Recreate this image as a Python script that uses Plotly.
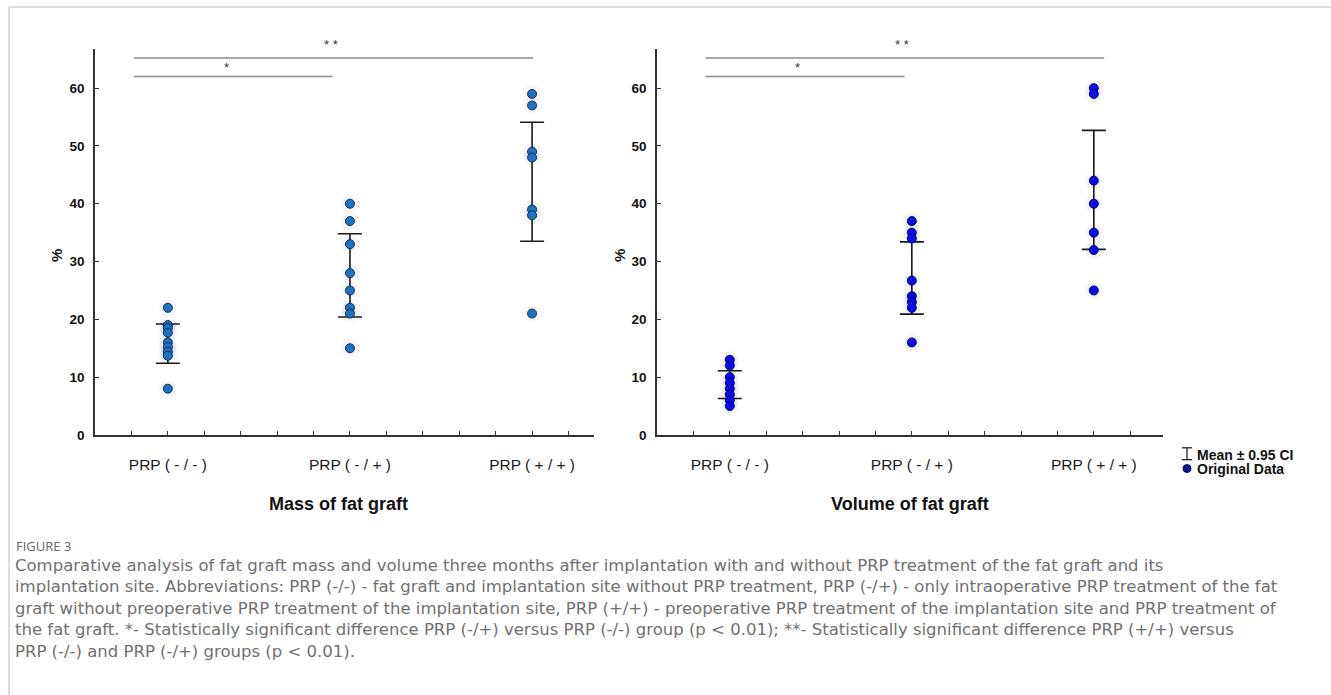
import plotly.graph_objects as go

W, H = 1331, 695


def X(px):
    return px / W


def Y(py):
    return 1 - py / H


categories = ["PRP ( - / - )", "PRP ( - / + )", "PRP ( + / + )"]

# Mass of fat graft (%), individual values per group
mass_g1 = [22, 19, 18.5, 17.7, 16, 15.2, 14.4, 13.7, 8]
mass_g2 = [40, 37, 33, 28, 25, 22, 21, 15]
mass_g3 = [59, 57, 49, 48, 39, 38, 21]
mass_ci_low = [12.4, 20.4, 33.5]
mass_ci_high = [19.2, 34.8, 54.1]

# Volume of fat graft (%), individual values per group
vol_g1 = [13, 12, 10, 9, 8, 7, 6, 5]
vol_g2 = [37, 35, 34, 26.7, 24, 23, 22, 16]
vol_g3 = [60, 59, 44, 40, 35, 32, 25]
vol_ci_low = [6.3, 20.9, 32.1]
vol_ci_high = [11.1, 33.4, 52.7]

y_ticks = [0, 10, 20, 30, 40, 50, 60]
x_minor_ticks = [-0.2, 0, 0.2, 0.4, 0.6, 0.8, 1, 1.2, 1.4, 1.6, 1.8, 2, 2.2]

panel_titles = ["Mass of fat graft", "Volume of fat graft"]
y_title = "%"

# significance brackets: (start, end, level, label, label_x, label_shift)
mass_brackets = [(-0.187, 2.005, 65.2, "* *", 0.894, 4), (-0.187, 0.904, 62.0, "*", 0.324, 0)]
vol_brackets = [(-0.134, 2.057, 65.2, "* *", 0.947, 4), (-0.134, 0.96, 62.0, "*", 0.37, 0)]

legend_labels = ["Mean ± 0.95 CI", "Original Data"]

caption_head = "FIGURE 3"
caption_lines = [
    "Comparative analysis of fat graft mass and volume three months after implantation with and without PRP treatment of the fat graft and its",
    "implantation site. Abbreviations: PRP (-/-) - fat graft and implantation site without PRP treatment, PRP (-/+) - only intraoperative PRP treatment of the fat",
    "graft without preoperative PRP treatment of the implantation site, PRP (+/+) - preoperative PRP treatment of the implantation site and PRP treatment of",
    "the fat graft. *- Statistically significant difference PRP (-/+) versus PRP (-/-) group (p < 0.01); **- Statistically significant difference PRP (+/+) versus",
    "PRP (-/-) and PRP (-/+) groups (p < 0.01).",
]

FONT = "Liberation Sans, Arial, sans-serif"

fig = go.Figure()

panels = [
    dict(groups=[mass_g1, mass_g2, mass_g3], lo=mass_ci_low, hi=mass_ci_high,
         fill="#1f72c2", edge="#0d2d55", xa="x", ya="y", br=mass_brackets),
    dict(groups=[vol_g1, vol_g2, vol_g3], lo=vol_ci_low, hi=vol_ci_high,
         fill="#0a0aee", edge="#00006a", xa="x2", ya="y2", br=vol_brackets),
]

for p in panels:
    for (s, e, lvl, lab, lx, sh) in p["br"]:
        fig.add_trace(go.Scatter(x=[s, e], y=[lvl, lvl], mode="lines",
                                 line=dict(color="#8a8a8a", width=1.5),
                                 xaxis=p["xa"], yaxis=p["ya"], showlegend=False,
                                 hoverinfo="skip", cliponaxis=False))
        fig.add_annotation(x=lx, y=lvl, xref=p["xa"], yref=p["ya"], text=lab,
                           showarrow=False, yanchor="bottom", yshift=sh,
                           font=dict(family=FONT, size=13, color="#333"))
    mids = [(a + b) / 2 for a, b in zip(p["lo"], p["hi"])]
    halfs = [(b - a) / 2 for a, b in zip(p["lo"], p["hi"])]
    fig.add_trace(go.Scatter(x=[0, 1, 2], y=mids, mode="markers",
                             marker=dict(size=1, opacity=0),
                             error_y=dict(type="data", array=halfs, visible=True,
                                          color="#1a1a1a", thickness=1.6, width=12),
                             xaxis=p["xa"], yaxis=p["ya"], showlegend=False))
    for i, g in enumerate(p["groups"]):
        fig.add_trace(go.Scatter(x=[i] * len(g), y=g, mode="markers",
                                 marker=dict(size=18, color="rgba(0,0,0,0.035)"),
                                 xaxis=p["xa"], yaxis=p["ya"], showlegend=False,
                                 hoverinfo="skip"))
        fig.add_trace(go.Scatter(x=[i] * len(g), y=g, mode="markers",
                                 marker=dict(size=9, color=p["fill"],
                                             line=dict(color=p["edge"], width=1)),
                                 xaxis=p["xa"], yaxis=p["ya"], showlegend=False))

tick_text = [categories[int(round(t))] if abs(t - round(t)) < 1e-9 and 0 <= round(t) <= 2 else ""
             for t in x_minor_ticks]

xcommon = dict(showline=True, linecolor="#333", linewidth=1.5,
               ticks="inside", ticklen=4, tickcolor="#333", tickwidth=1,
               tickvals=x_minor_ticks, ticktext=tick_text, showgrid=False, zeroline=False,
               tickfont=dict(family=FONT, size=15.5, color="#1a1a1a"), ticklabelstandoff=15,
               fixedrange=True)
ycommon = dict(range=[0, 66.7], showline=True, linecolor="#333", linewidth=1.5,
               ticks="inside", ticklen=4, tickcolor="#333", tickwidth=1,
               tickvals=y_ticks, showgrid=False, zeroline=False,
               tickfont=dict(family=FONT, size=13.5, color="#111", weight="bold"),
               ticklabelstandoff=6, fixedrange=True)

fig.update_layout(
    width=W, height=H, margin=dict(l=0, r=0, t=0, b=0),
    paper_bgcolor="white", plot_bgcolor="white", showlegend=False,
    xaxis=dict(domain=[X(95), X(594)], range=[-0.4, 2.34], anchor="y", **xcommon),
    yaxis=dict(domain=[Y(440), Y(50)], anchor="x", **ycommon),
    xaxis2=dict(domain=[X(657), X(1163)], range=[-0.4, 2.38], anchor="y2", **xcommon),
    yaxis2=dict(domain=[Y(440), Y(50)], anchor="x2", **ycommon),
)

for cx, t in zip([338, 910], panel_titles):
    fig.add_annotation(x=X(cx), y=Y(510), xref="paper", yref="paper", text="<b>%s</b>" % t,
                       showarrow=False, xanchor="center", yanchor="middle",
                       font=dict(family=FONT, size=18, color="#111"))
for cx in [56, 619]:
    fig.add_annotation(x=X(cx), y=Y(259), xref="paper", yref="paper", text="<b>%s</b>" % y_title,
                       showarrow=False, textangle=-90, xanchor="center", yanchor="middle",
                       font=dict(family=FONT, size=15, color="#111"))

# legend (custom)
lx = 1187
fig.add_shape(type="line", xref="paper", yref="paper", x0=X(lx), x1=X(lx),
              y0=Y(453), y1=Y(465), line=dict(color="#222", width=1.3))
for yy in [453, 465]:
    fig.add_shape(type="line", xref="paper", yref="paper", x0=X(lx - 5), x1=X(lx + 5),
                  y0=Y(yy), y1=Y(yy), line=dict(color="#222", width=1.3))
fig.add_shape(type="circle", xref="paper", yref="paper", x0=X(lx - 4), x1=X(lx + 4),
              y0=Y(478), y1=Y(470), fillcolor="#0a1a8a", line=dict(color="#000050", width=1))
for yy, t in zip([460, 474], legend_labels):
    fig.add_annotation(x=X(lx + 8), y=Y(yy), xref="paper", yref="paper", text="<b>%s</b>" % t,
                       showarrow=False, xanchor="left", yanchor="middle",
                       font=dict(family=FONT, size=14, color="#111"))

# frame lines
fig.add_shape(type="line", xref="paper", yref="paper", x0=X(9), x1=1.01, y0=Y(7), y1=Y(7),
              line=dict(color="#d2d2d2", width=1.5))
fig.add_shape(type="line", xref="paper", yref="paper", x0=X(9), x1=X(9), y0=-0.02, y1=Y(7),
              line=dict(color="#d2d2d2", width=1.5))

CAP = "DejaVu Sans, Open Sans, sans-serif"
fig.add_annotation(x=X(14), y=Y(552), xref="paper", yref="paper", text=caption_head,
                   showarrow=False, xanchor="left", yanchor="middle",
                   font=dict(family="Open Sans, sans-serif", size=13, color="#666"))
fig.add_annotation(x=X(13), y=Y(616), xref="paper", yref="paper", text="<br>".join(caption_lines),
                   showarrow=False, xanchor="left", yanchor="middle", align="left",
                   font=dict(family=CAP, size=16.5, color="#707070"))

fig.write_html("out.html", config={"displayModeBar": False},
               post_script="document.body.style.margin='0';document.body.style.overflow='hidden';")
